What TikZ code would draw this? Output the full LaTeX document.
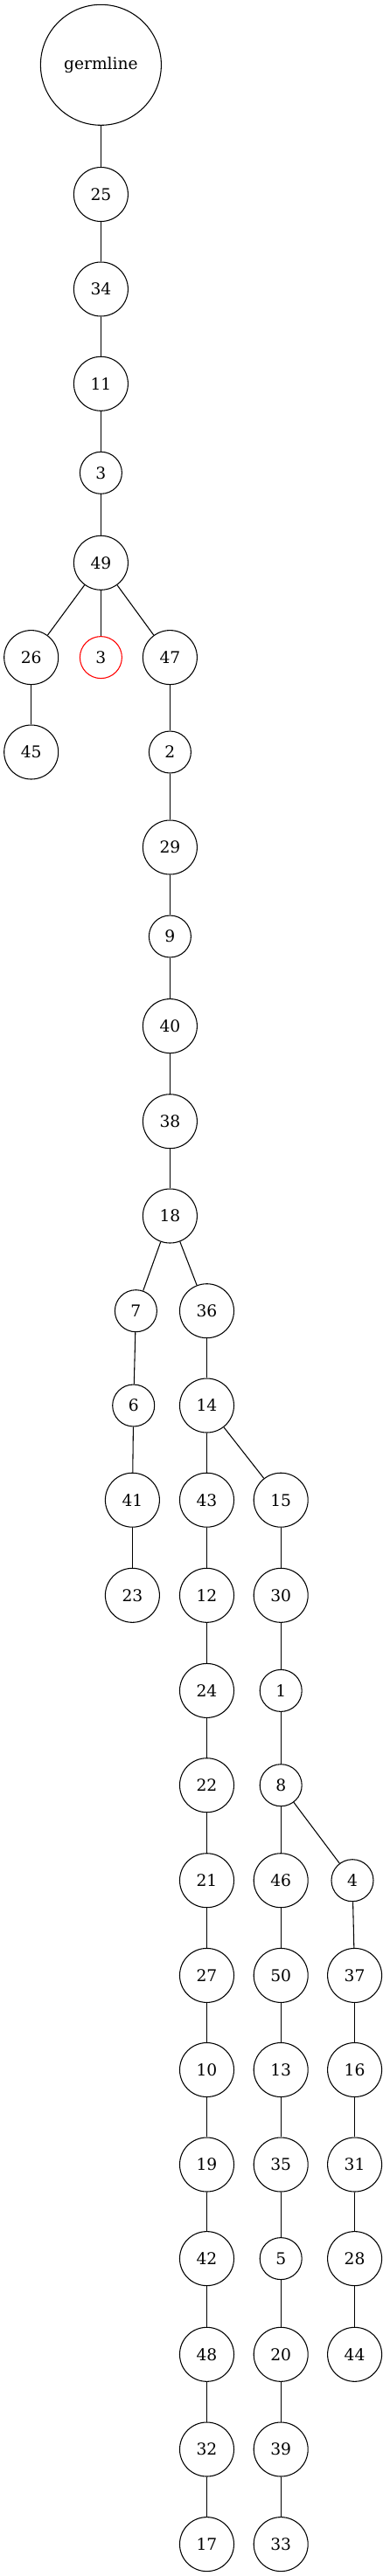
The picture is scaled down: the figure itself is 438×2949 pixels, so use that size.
\documentclass[tikz,border=0pt]{standalone}
\usepackage{fontspec}
\setmainfont{DejaVu Serif}
\begin{document}
\begin{tikzpicture}[x=0.75pt,y=-0.75pt,
  big/.style={circle,draw,line width=0.8pt,inner sep=0pt,minimum size=46.5pt,font=\fontsize{14}{16}\selectfont},
  small/.style={circle,draw,line width=0.8pt,inner sep=0pt,minimum size=36pt,font=\fontsize{14}{16}\selectfont},
  huge/.style={circle,draw,line width=0.8pt,inner sep=0pt,minimum size=103.5pt,font=\fontsize{14}{16}\selectfont},
  red/.style={draw=red},
  edge/.style={line width=0.8pt}]
\useasboundingbox (0,0) rectangle (438,2949);
\def\xa{35.7}\def\xb{115.4}\def\xc{194.4}\def\xd{236.5}\def\xe{321.2}\def\xf{405.6}
\node[huge] (g) at (\xb,74.3) {germline};
\node[big] (n25) at (\xb,222.5) {25};
\node[big] (n34) at (\xb,331) {34};
\node[big] (n11) at (\xb,439.3) {11};
\node[small] (n3) at (\xb,541.3) {3};
\node[big] (n49) at (\xb,644.3) {49};
\node[big] (n26) at (\xa,752.6) {26};
\node[small,draw=red] (n3r) at (\xb,752.6) {3};
\node[big] (n47) at (\xc,752.6) {47};
\node[big] (n45) at (\xa,861) {45};
\node[small] (n2) at (\xc,861) {2};
\node[big] (n29) at (\xc,970) {29};
\node[small] (n9) at (\xc,1072) {9};
\node[big] (n40) at (\xc,1174.6) {40};
\node[big] (n38) at (\xc,1283.7) {38};
\node[big] (n18) at (\xc,1392) {18};
\node[small] (n7) at (155.4,1500.7) {7};
\node[big] (n36) at (\xd,1500.7) {36};
\node[small] (n6) at (152.7,1609) {6};
\node[big] (n14) at (\xd,1609) {14};
\node[big] (n41) at (151.4,1717.2) {41};
\node[big] (n43) at (\xd,1717.2) {43};
\node[big] (n15) at (\xe,1717.2) {15};
\node[big] (n23) at (151.4,1826.3) {23};
\node[big] (n12) at (\xd,1826.3) {12};
\node[big] (n30) at (\xe,1826.3) {30};
\node[big] (n24) at (\xd,1935.4) {24};
\node[small] (n1) at (\xe,1935.4) {1};
\node[big] (n22) at (\xd,2043.7) {22};
\node[small] (n8) at (\xe,2043.7) {8};
\node[big] (n21) at (\xd,2152.7) {21};
\node[big] (n46) at (\xe,2152.7) {46};
\node[small] (n4) at (403,2152.7) {4};
\node[big] (n27) at (\xd,2261.4) {27};
\node[big] (n50) at (\xe,2261.4) {50};
\node[big] (n37) at (\xf,2261.4) {37};
\node[big] (n10) at (\xd,2369.5) {10};
\node[big] (n13) at (\xe,2369.5) {13};
\node[big] (n16) at (\xf,2369.5) {16};
\node[big] (n19) at (\xd,2478) {19};
\node[big] (n35) at (\xe,2478) {35};
\node[big] (n31) at (\xf,2478) {31};
\node[big] (n42) at (\xd,2585.6) {42};
\node[small] (n5) at (\xe,2585.6) {5};
\node[big] (n28) at (\xf,2585.6) {28};
\node[big] (n48) at (\xd,2695.3) {48};
\node[big] (n20) at (\xe,2695.3) {20};
\node[big] (n44) at (\xf,2695.3) {44};
\node[big] (n32) at (\xd,2804) {32};
\node[big] (n39) at (\xe,2804) {39};
\node[big] (n17) at (\xd,2912.6) {17};
\node[big] (n33) at (\xe,2912.6) {33};
\foreach \a/\b in {g/n25,n25/n34,n34/n11,n11/n3,n3/n49,n49/n26,n49/n3r,n49/n47,n26/n45,n47/n2,n2/n29,n29/n9,n9/n40,n40/n38,n38/n18,n18/n7,n18/n36,n7/n6,n6/n41,n41/n23,n36/n14,n14/n43,n14/n15,n43/n12,n12/n24,n24/n22,n22/n21,n21/n27,n27/n10,n10/n19,n19/n42,n42/n48,n48/n32,n32/n17,n15/n30,n30/n1,n1/n8,n8/n46,n8/n4,n46/n50,n50/n13,n13/n35,n35/n5,n5/n20,n20/n39,n39/n33,n4/n37,n37/n16,n16/n31,n31/n28,n28/n44}
  \draw[edge] (\a) -- (\b);
\end{tikzpicture}
\end{document}
